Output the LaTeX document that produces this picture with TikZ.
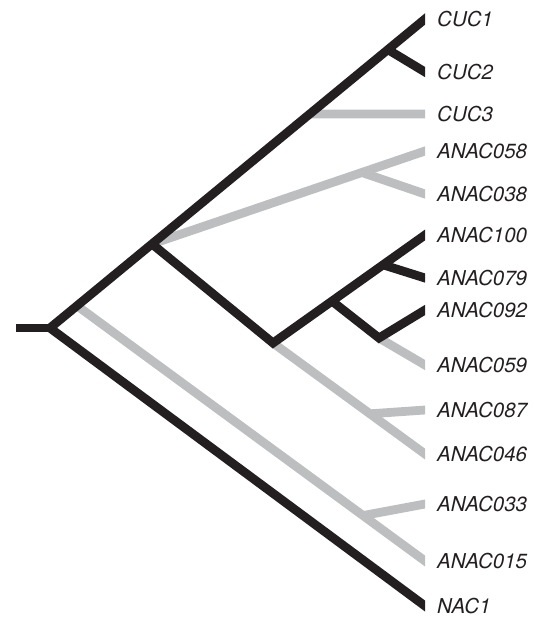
\documentclass[tikz,border=0pt]{standalone}
\usepackage{fontspec}
\setmainfont{TeX Gyre Heros}
\usetikzlibrary{calc}
\definecolor{tblack}{HTML}{231F20}
\definecolor{tgray}{HTML}{BCBEC0}
\begin{document}
\begin{tikzpicture}[x=1pt,y=-1pt,
  br/.style={line width=8.8pt, line join=miter, line cap=butt},
  blk/.style={br, draw=tblack},
  gry/.style={br, draw=tgray},
  ext/.style={shorten >=-16pt},
  extb/.style={shorten <=-16pt, shorten >=-16pt},
  lbl/.style={anchor=west, inner sep=0pt, font=\fontsize{20.5}{24}\selectfont\itshape, text=tblack}]
\useasboundingbox (0,0) rectangle (535,622);
% leaves
\coordinate (CUC1) at (425,19);
\coordinate (CUC2) at (425,72);
\coordinate (CUC3) at (425,114);
\coordinate (A058) at (425,151);
\coordinate (A038) at (425,194);
\coordinate (A100) at (425,235);
\coordinate (A079) at (425,278);
\coordinate (A092) at (425,310);
\coordinate (A059) at (425,365);
\coordinate (A087) at (425,410);
\coordinate (A046) at (425,454);
\coordinate (A033) at (425,504);
\coordinate (A015) at (425,561);
\coordinate (NAC1) at (425,606);
% internal nodes
\coordinate (S) at (16,328);
\coordinate (R) at (50,328);
\coordinate (G0) at ($(R)!0.072!(CUC1)$);
\coordinate (A) at ($(R)!0.272!(CUC1)$);
\coordinate (J3) at ($(R)!0.6926!(CUC1)$);
\coordinate (J2) at ($(R)!0.901!(CUC1)$);
\coordinate (B) at (273,343);
\coordinate (C) at ($(B)!0.388!(A100)$);
\coordinate (D) at ($(B)!0.724!(A100)$);
\coordinate (E) at (379,338);
\coordinate (J38) at ($(A)!0.769!(A058)$);
\coordinate (J87) at ($(B)!0.638!(A046)$);
\coordinate (J33) at ($(G0)!0.822!(A015)$);
\begin{scope}
\clip (0,0) rectangle (425,622);
% gray branches
\draw[gry,ext] (G0) -- (A015);
\draw[gry,ext] (J33) -- (A033);
\draw[gry,ext] (B) -- (A046);
\draw[gry,ext] (J87) -- (A087);
\draw[gry,ext] (E) -- (A059);
\draw[gry,ext] (A) -- (A058);
\draw[gry,ext] (J38) -- (A038);
\draw[gry,ext] (J3) -- (CUC3);
% black branches
\draw[blk] (S) -- (R);
\draw[blk,extb] (CUC1) -- (R) -- (NAC1);
\draw[blk,ext] (J2) -- (CUC2);
\draw[blk,ext] (A) -- (B) -- (A100);
\draw[blk,ext] (D) -- (A079);
\draw[blk,ext] (C) -- (E) -- (A092);
\end{scope}
% labels
\node[lbl] (nCUC1) at ([xshift=12pt]CUC1) {CUC1};
\node[lbl] (nCUC2) at ([xshift=12pt]CUC2) {CUC2};
\node[lbl] (nCUC3) at ([xshift=12pt]CUC3) {CUC3};
\node[lbl] (n058) at ([xshift=12pt]A058) {ANAC058};
\node[lbl] (n038) at ([xshift=12pt]A038) {ANAC038};
\node[lbl] (n100) at ([xshift=12pt]A100) {ANAC100};
\node[lbl] (n079) at ([xshift=12pt]A079) {ANAC079};
\node[lbl] (n092) at ([xshift=12pt]A092) {ANAC092};
\node[lbl] (n059) at ([xshift=12pt]A059) {ANAC059};
\node[lbl] (n087) at ([xshift=12pt]A087) {ANAC087};
\node[lbl] (n046) at ([xshift=12pt]A046) {ANAC046};
\node[lbl] (n033) at ([xshift=12pt]A033) {ANAC033};
\node[lbl] (n015) at ([xshift=12pt]A015) {ANAC015};
\node[lbl] (nNAC1) at ([xshift=12pt]NAC1) {NAC1};
\end{tikzpicture}
\end{document}
